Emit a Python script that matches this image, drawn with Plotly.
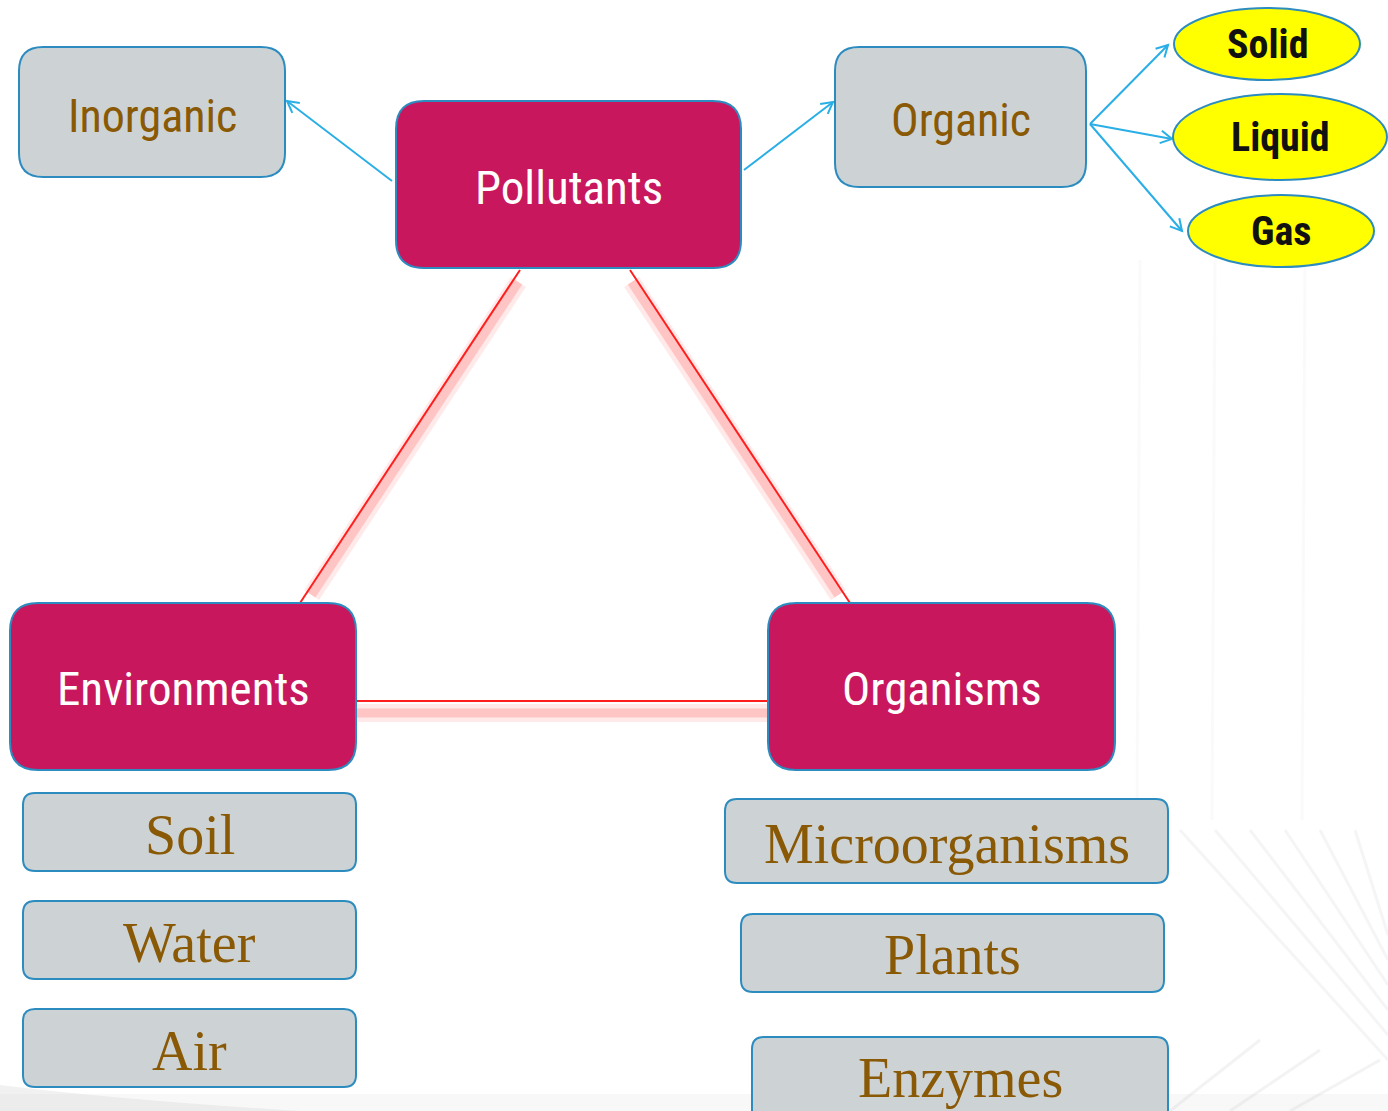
import math
import plotly.graph_objects as go

# ---- content ----
box_labels = ["Inorganic", "Pollutants", "Organic", "Environments", "Organisms",
              "Soil", "Water", "Air", "Microorganisms", "Plants", "Enzymes"]
box_kind = ["grey", "main", "grey", "main", "main",
            "serif", "serif", "serif", "serif", "serif", "serif"]
box_x0 = [19, 396, 835, 10, 768, 23, 23, 23, 725, 741, 752]
box_x1 = [285, 741, 1086, 356, 1115, 356, 356, 356, 1168, 1164, 1168]
box_y0 = [47, 101, 47, 603, 603, 793, 901, 1009, 799, 914, 1037]
box_y1 = [177, 268, 187, 770, 770, 871, 979, 1087, 883, 992, 1122]
box_text_dy = [4, 3, 3, 2, 2, 3, 3, 3, 3, 2, -2]

ell_labels = ["Solid", "Liquid", "Gas"]
ell_cx = [1267, 1280, 1281]
ell_cy = [44, 137, 231]
ell_rx = [93, 107, 93]
ell_ry = [36, 43, 36]

# arrows (from -> to) in pixel space
arrow_from = [(392, 181), (744, 170), (1090, 124), (1090, 124), (1090, 124)]
arrow_to = [(287, 101), (833, 102), (1168, 45), (1172, 139), (1182, 231)]

# red triangle links
link_from = [(520, 270), (630, 270), (356, 701)]
link_to = [(300, 603), (850, 603), (768, 701)]
link_glow_off = [(5, 2), (-5, 2), (0, 12)]

W, H = 1388, 1111

BORDER = "#2C8CC0"
GREY = "#CDD3D4"
MAGENTA = "#C8175D"
BROWN = "#8A5906"
ARROW = "#29AEE6"
SANS = "Liberation Sans Narrow, Roboto Condensed, Arial Narrow, Liberation Sans, sans-serif"
SERIF = "Liberation Serif, Times New Roman, serif"


def rrect(x0, y0, x1, y1, r):
    return (f"M {x0+r},{y0} L {x1-r},{y0} Q {x1},{y0} {x1},{y0+r} "
            f"L {x1},{y1-r} Q {x1},{y1} {x1-r},{y1} L {x0+r},{y1} "
            f"Q {x0},{y1} {x0},{y1-r} L {x0},{y0+r} Q {x0},{y0} {x0+r},{y0} Z")


shapes = []
annotations = []

# faint background texture
shapes.append(dict(type="rect", xref="x", yref="y", x0=0, x1=W, y0=1094, y1=H,
                   fillcolor="rgba(232,232,232,0.3)", line=dict(width=0), layer="below"))
shapes.append(dict(type="path", xref="x", yref="y",
                   path="M 0,1085 Q 120,1100 300,1111 L 0,1111 Z",
                   fillcolor="rgba(200,200,200,0.25)", line=dict(width=0), layer="below"))
for xv in (1140, 1215, 1305):
    shapes.append(dict(type="line", xref="x", yref="y", x0=xv, y0=260, x1=xv - 3, y1=820,
                       line=dict(color="rgba(225,225,225,0.18)", width=3), layer="below"))
for k in range(6):
    shapes.append(dict(type="line", xref="x", yref="y",
                       x0=1180 + k * 35, y0=830, x1=1388, y1=1060 - k * 25,
                       line=dict(color="rgba(190,190,190,0.16)", width=3), layer="below"))
for k in range(3):
    shapes.append(dict(type="line", xref="x", yref="y",
                       x0=1170 + k * 60, y0=H, x1=1260 + k * 60, y1=1040 + k * 10,
                       line=dict(color="rgba(190,190,190,0.18)", width=3), layer="below"))

# red links with soft glow
for (xa, ya), (xb, yb), (ox, oy) in zip(link_from, link_to, link_glow_off):
    gx0, gy0 = xa + 0.03 * (xb - xa) + ox, ya + 0.03 * (yb - ya) + oy
    gx1, gy1 = xa + 0.97 * (xb - xa) + ox, ya + 0.97 * (yb - ya) + oy
    if ya == yb:
        gx0, gx1 = xa, xb
    shapes.append(dict(type="line", xref="x", yref="y", x0=gx0, y0=gy0, x1=gx1, y1=gy1,
                       line=dict(color="rgba(255,70,70,0.12)", width=18)))
    shapes.append(dict(type="line", xref="x", yref="y", x0=gx0, y0=gy0, x1=gx1, y1=gy1,
                       line=dict(color="rgba(255,70,70,0.22)", width=9)))
    shapes.append(dict(type="line", xref="x", yref="y", x0=xa, y0=ya, x1=xb, y1=yb,
                       line=dict(color="#FF1E1E", width=2)))

# blue arrows with open heads
for (xa, ya), (xb, yb) in zip(arrow_from, arrow_to):
    shapes.append(dict(type="line", xref="x", yref="y", x0=xa, y0=ya, x1=xb, y1=yb,
                       line=dict(color=ARROW, width=2)))
    ang = math.atan2(yb - ya, xb - xa)
    L = 13
    p1 = (xb - L * math.cos(ang - 0.5), yb - L * math.sin(ang - 0.5))
    p2 = (xb - L * math.cos(ang + 0.5), yb - L * math.sin(ang + 0.5))
    shapes.append(dict(type="path", xref="x", yref="y",
                       path=f"M {p1[0]},{p1[1]} L {xb},{yb} L {p2[0]},{p2[1]}",
                       line=dict(color=ARROW, width=2)))

# boxes
for lab, kind, x0, x1, y0, y1, dy in zip(box_labels, box_kind, box_x0, box_x1,
                                          box_y0, box_y1, box_text_dy):
    if kind == "main":
        fill, r, font = MAGENTA, 28, dict(family=SANS, size=47, color="white")
    elif kind == "grey":
        fill, r, font = GREY, 24, dict(family=SANS, size=46, color=BROWN)
    else:
        fill, r, font = GREY, 12, dict(family=SERIF, size=56, color=BROWN)
    shapes.append(dict(type="path", xref="x", yref="y", path=rrect(x0, y0, x1, y1, r),
                       fillcolor=fill, line=dict(color=BORDER, width=2)))
    annotations.append(dict(x=(x0 + x1) / 2, y=(y0 + y1) / 2 + dy, xref="x", yref="y",
                            text=lab, showarrow=False, font=font,
                            xanchor="center", yanchor="middle"))

# ellipses
for lab, cx, cy, rx, ry in zip(ell_labels, ell_cx, ell_cy, ell_rx, ell_ry):
    shapes.append(dict(type="circle", xref="x", yref="y", x0=cx - rx, x1=cx + rx,
                       y0=cy - ry, y1=cy + ry, fillcolor="#FFFF00",
                       line=dict(color=BORDER, width=2)))
    annotations.append(dict(x=cx, y=cy, xref="x", yref="y", text=f"<b>{lab}</b>",
                            showarrow=False, font=dict(family=SANS, size=40, color="#111111"),
                            xanchor="center", yanchor="middle"))

fig = go.Figure()
fig.add_trace(go.Scatter(x=[0, W], y=[0, H], mode="markers",
                         marker=dict(opacity=0), hoverinfo="skip", showlegend=False))
fig.update_layout(
    width=W, height=H, margin=dict(l=0, r=0, t=0, b=0),
    paper_bgcolor="white", plot_bgcolor="white",
    xaxis=dict(range=[0, W], visible=False, fixedrange=True),
    yaxis=dict(range=[H, 0], visible=False, fixedrange=True),
    shapes=shapes, annotations=annotations, showlegend=False,
)
fig.write_html("out.html", config={"displayModeBar": False},
               post_script="document.body.style.margin='0';document.body.style.overflow='hidden';")
